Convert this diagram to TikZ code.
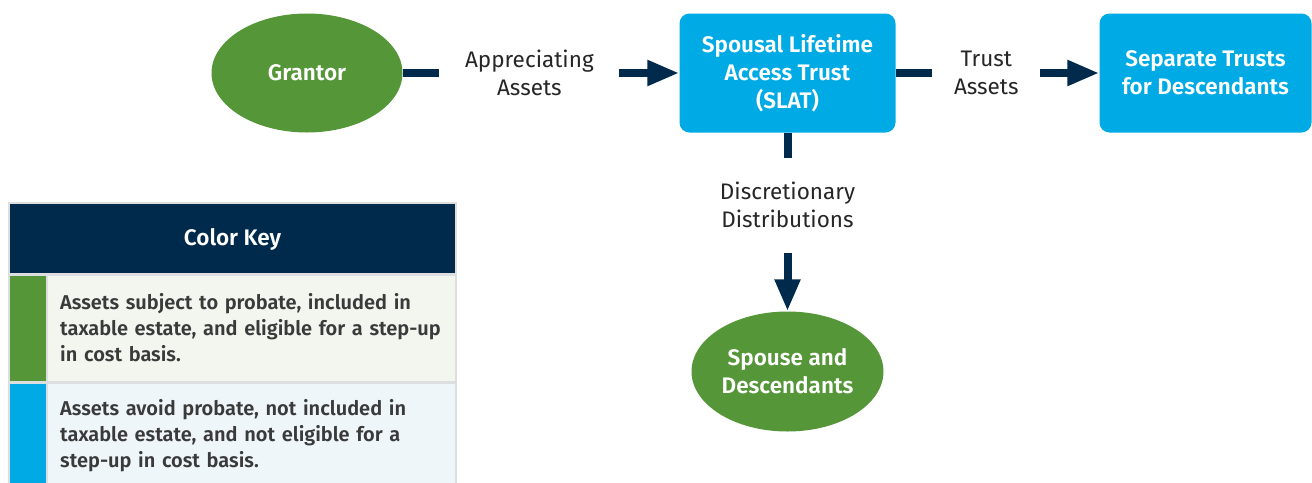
\documentclass[tikz,border=0pt]{standalone}
\usepackage{fontspec}
\setmainfont{Fira Sans}[BoldFont={Fira Sans SemiBold}]
\usetikzlibrary{matrix, arrows.meta, shapes.geometric}
\definecolor{keygreen}{HTML}{559638}
\definecolor{keyblue}{HTML}{00AAE4}
\definecolor{navy}{HTML}{002A4C}
\definecolor{inkgray}{HTML}{262626}
\definecolor{keyink}{HTML}{3A3A3A}
\definecolor{rowgreen}{HTML}{F2F6EE}
\definecolor{rowblue}{HTML}{EEF6FA}
\definecolor{rulegray}{HTML}{DCDEDF}

\begin{document}
\begin{tikzpicture}[x=1pt, y=-1pt,
  shape node/.style={anchor=center, align=center, inner sep=0pt, text=white, font=\bfseries\fontsize{22.5}{28}\selectfont},
  oval/.style={shape node, ellipse, fill=keygreen, minimum width=191pt, minimum height=119pt},
  trust/.style={shape node, rectangle, rounded corners=10pt, fill=keyblue, minimum height=119pt},
  link/.style={navy, line width=8pt},
  flow/.style={link, -{Triangle[length=32pt, width=24pt]}},
  gap/.style={fill=white, inner sep=0pt, align=center, text=inkgray, font=\fontsize{22.5}{27.5}\selectfont},
  keytext/.style={anchor=west, inner sep=0pt, align=left, text width=392pt, text=keyink, font=\bfseries\fontsize{20}{26}\selectfont}]
\useasboundingbox (0,0) rectangle (1312,482);
\matrix (m) [matrix anchor=grantor.center, inner sep=0pt, column sep=277pt, row sep=179pt] at (307,73) {
\node[oval] (grantor) {Grantor}; & \node[trust, minimum width=216pt] (slat) {Spousal Lifetime\\Access Trust\\(SLAT)}; &[-73pt] \node[trust, minimum width=212pt] (trusts) {Separate Trusts\\for Descendants}; \\
 & \node[oval, minimum width=192pt, minimum height=120pt] (spouse) {Spouse and\\Descendants}; & \\
};
\draw [flow] (grantor) -- (slat) node[gap, pos=.458, text width=180pt]{Appreciating\\Assets};
\draw [flow] (slat) -- (trusts) node[gap, pos=.445, text width=108pt]{Trust\\Assets};
\draw [flow] (slat) -- (spouse) node[gap, pos=.405, text width=150pt, minimum height=95pt]{Discretionary\\Distributions};

\fill [rulegray] (8,202) rectangle (457,484);
\fill [navy] (10,204) rectangle (455,273);
\node [text=white, font=\bfseries\fontsize{22.5}{26}\selectfont] (keytitle) at (232.5,239) {Color Key};
\fill [keygreen] (10,276) rectangle (46,381);
\fill [rowgreen] (48,276) rectangle (455,381);
\fill [keyblue] (10,384) rectangle (46,484);
\fill [rowblue] (48,384) rectangle (455,484);
\node [keytext] (probate) at (60,328) {Assets subject to probate, included in\\taxable estate, and eligible for a step-up\\in cost basis.};
\node [keytext] (noprobate) at (60,436) {Assets avoid probate, not included in\\taxable estate, and not eligible for a\\step-up in cost basis.};
\end{tikzpicture}
\end{document}
